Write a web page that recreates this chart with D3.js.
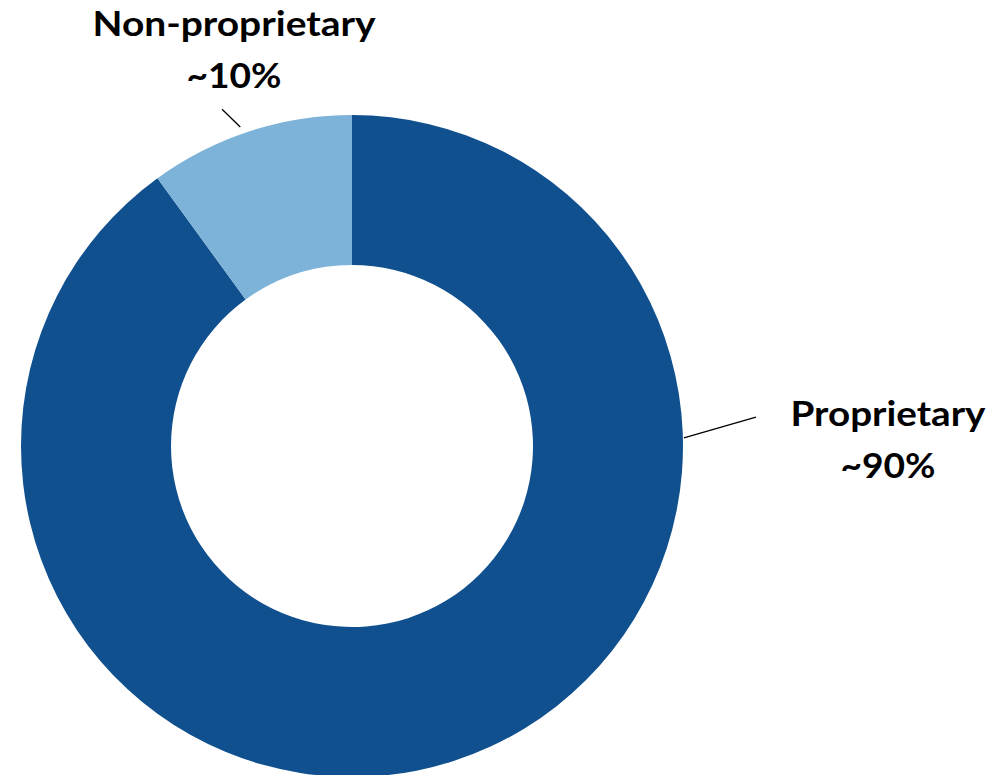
<!DOCTYPE html>
<html>
<head>
<meta charset="utf-8">
<script src="https://cdn.jsdelivr.net/npm/d3@7"></script>
<style>
  body { margin: 0; background: #fff; }
  svg { display: block; }
</style>
</head>
<body>
<svg></svg>
<script>
const categories = ["Proprietary", "Non-proprietary"]
const values = [90, 10]
const valueLabels = ["~90%", "~10%"]
const colors = ["#11508f", "#7db3d9"]

const width = 998
const height = 775
const cx = 352, cy = 446
const outerR = 331, innerR = 181

let svg = d3.select("svg")
    .attr("width", width)
    .attr("height", height)

let g = svg.append("g").attr("transform", `translate(${cx},${cy})`)

let pie = d3.pie().sort(null).value(d => d)
let arc = d3.arc().innerRadius(innerR).outerRadius(outerR)
let arcs = pie(values)

g.selectAll("path")
    .data(arcs)
    .enter()
    .append("path")
    .attr("d", arc)
    .attr("fill", (d, i) => colors[i])

// label placement (text centre x, first baseline) and leader line (angle/radius pairs)
const labelPos = [
    {x: 888, y: 426, a: 88.6, r1: 332, a2: 85.9, r2: 405, w: [195, 95]},
    {x: 234, y: 36, a: -19.3, r1: 338, a2: -21.1, r2: 361, w: [283, 95]}
]

function polar(aDeg, r) {
    let a = aDeg * Math.PI / 180
    return [Math.sin(a) * r, -Math.cos(a) * r]
}

labelPos.forEach(function(p, i) {
    let p1 = polar(p.a, p.r1), p2 = polar(p.a2, p.r2)
    g.append("line")
        .attr("x1", p1[0]).attr("y1", p1[1])
        .attr("x2", p2[0]).attr("y2", p2[1])
        .attr("stroke", "#000")
        .attr("stroke-width", 1.3)

    let t = svg.append("text")
        .attr("text-anchor", "middle")
        .style("font-family", "Lato, 'Open Sans', sans-serif")
        .style("font-weight", 700)
        .style("font-size", "35px")
        .attr("fill", "#000")
    t.append("tspan").attr("x", p.x).attr("y", p.y)
        .attr("textLength", p.w[0]).attr("lengthAdjust", "spacingAndGlyphs")
        .text(categories[i])
    t.append("tspan").attr("x", p.x).attr("y", p.y + 52)
        .attr("textLength", p.w[1]).attr("lengthAdjust", "spacingAndGlyphs")
        .text(valueLabels[i])
})
</script>
</body>
</html>
